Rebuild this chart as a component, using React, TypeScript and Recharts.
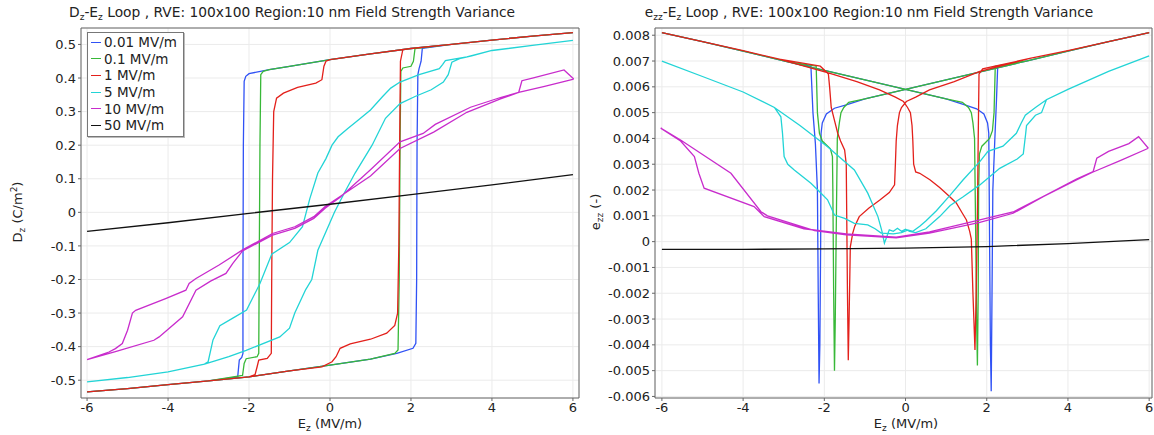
import React from 'react';
import { LineChart, Line, XAxis, YAxis, CartesianGrid, Legend, ReferenceArea } from 'recharts';

const FONT = '"DejaVu Sans", Verdana, sans-serif';

const seriesNames = ['0.01 MV/m', '0.1 MV/m', '1 MV/m', '5 MV/m', '10 MV/m', '50 MV/m'];
const seriesColors = ['#3052f5', '#38b838', '#e3201b', '#22d4d6', '#c82ccc', '#111111'];

const eTicks = [-6, -4, -2, 0, 2, 4, 6];
const dTicks = [-0.5, -0.4, -0.3, -0.2, -0.1, 0, 0.1, 0.2, 0.3, 0.4, 0.5];
const sTicks = [-0.006, -0.005, -0.004, -0.003, -0.002, -0.001, 0, 0.001, 0.002, 0.003, 0.004, 0.005, 0.006, 0.007, 0.008];

// D-E loops: [E (MV/m), D (C/m^2)], down the descending branch then back up
const dBlue: [number, number][] = [
  [6, 0.535], [5, 0.525], [4, 0.513], [3, 0.5], [2, 0.488], [1, 0.472], [0, 0.455], [-1, 0.435], [-1.5, 0.425],
  [-2, 0.413], [-2.08, 0.405], [-2.12, 0.39], [-2.14, 0.2], [-2.15, -0.2], [-2.15, -0.42], [-2.18, -0.432],
  [-2.24, -0.44], [-2.28, -0.49], [-3, -0.502], [-4, -0.513], [-5, -0.525], [-6, -0.535],
  [-5, -0.525], [-4, -0.513], [-3, -0.502], [-2, -0.49], [-1, -0.472], [0, -0.455], [1, -0.437], [1.65, -0.42],
  [2.05, -0.405], [2.12, -0.39], [2.14, -0.2], [2.15, 0.2], [2.17, 0.41], [2.2, 0.428], [2.25, 0.45],
  [2.28, 0.488], [3, 0.5], [4, 0.513], [5, 0.525], [6, 0.535],
];
const dGreen: [number, number][] = [
  [6, 0.535], [5, 0.525], [4, 0.513], [3, 0.5], [2, 0.488], [1, 0.472], [0, 0.455], [-1, 0.435], [-1.5, 0.425],
  [-1.65, 0.42], [-1.71, 0.41], [-1.73, 0.2], [-1.75, -0.2], [-1.76, -0.42], [-1.8, -0.43], [-2.07, -0.436],
  [-2.12, -0.45], [-2.16, -0.486], [-3, -0.502], [-4, -0.513], [-5, -0.525], [-6, -0.535],
  [-5, -0.525], [-4, -0.513], [-3, -0.502], [-2, -0.49], [-1, -0.472], [0, -0.455], [1, -0.437], [1.6, -0.42],
  [1.68, -0.41], [1.71, -0.2], [1.73, 0.2], [1.75, 0.42], [1.8, 0.43], [2.0, 0.435], [2.06, 0.45],
  [2.1, 0.488], [3, 0.5], [4, 0.513], [5, 0.525], [6, 0.535],
];
const dRed: [number, number][] = [
  [6, 0.535], [5, 0.525], [4, 0.513], [3, 0.5], [2, 0.488], [1, 0.472], [0, 0.455], [-0.1, 0.45], [-0.15, 0.435],
  [-0.2, 0.395], [-0.35, 0.385], [-0.8, 0.372], [-1.15, 0.355], [-1.32, 0.34], [-1.39, 0.3], [-1.42, 0.1],
  [-1.44, -0.2], [-1.45, -0.42], [-1.55, -0.435], [-1.76, -0.44], [-1.8, -0.46], [-1.85, -0.483], [-2, -0.49],
  [-3, -0.502], [-4, -0.513], [-5, -0.525], [-6, -0.535],
  [-5, -0.525], [-4, -0.513], [-3, -0.502], [-2, -0.49], [-1, -0.472], [-0.2, -0.46], [0.05, -0.445],
  [0.15, -0.43], [0.25, -0.405], [0.5, -0.392], [1.0, -0.378], [1.4, -0.36], [1.6, -0.337], [1.67, -0.3],
  [1.7, -0.1], [1.72, 0.2], [1.74, 0.45], [1.8, 0.485], [2, 0.488], [3, 0.5], [4, 0.513], [5, 0.525], [6, 0.535],
];
const dCyan: [number, number][] = [
  [6, 0.512], [5, 0.497], [4, 0.482], [3.38, 0.463], [2.85, 0.452], [2.78, 0.44], [2.7, 0.428], [2.2, 0.41],
  [1.73, 0.388], [1.5, 0.37], [1.3, 0.345], [1.0, 0.305], [0.7, 0.275], [0.44, 0.25], [0.2, 0.225], [0.05, 0.2],
  [-0.1, 0.16], [-0.3, 0.117], [-0.5, 0.04], [-0.68, -0.043], [-1.0, -0.09], [-1.44, -0.125], [-1.73, -0.212],
  [-2.06, -0.291], [-2.4, -0.315], [-2.72, -0.338], [-2.89, -0.38], [-3.01, -0.445], [-3.1, -0.452],
  [-4, -0.475], [-5, -0.492], [-6, -0.505],
  [-5, -0.492], [-4, -0.475], [-3.1, -0.452], [-2.5, -0.43], [-2.07, -0.411], [-1.24, -0.371], [-1.0, -0.345],
  [-0.87, -0.3], [-0.6, -0.23], [-0.45, -0.2], [-0.3, -0.113], [0.11, 0.0], [0.35, 0.057], [0.62, 0.117],
  [1.04, 0.2], [1.37, 0.28], [1.73, 0.324], [2.1, 0.345], [2.5, 0.365], [2.8, 0.388], [2.92, 0.41],
  [3.01, 0.447], [3.2, 0.458], [3.5, 0.466], [4, 0.482], [5, 0.497], [6, 0.512],
];
const dMagenta: [number, number][] = [
  [6.02, 0.397], [5.3, 0.375], [4.66, 0.357], [4.21, 0.338], [3.38, 0.298], [2.56, 0.239], [1.73, 0.19],
  [1.0, 0.108], [0.25, 0.047], [-0.12, 0.017], [-0.4, -0.013], [-0.87, -0.043], [-1.42, -0.063], [-2.16, -0.112],
  [-2.74, -0.157], [-3.31, -0.197], [-3.48, -0.212], [-3.56, -0.232], [-4.06, -0.257], [-4.8, -0.292],
  [-4.88, -0.3], [-5.0, -0.351], [-5.13, -0.391], [-5.3, -0.406], [-5.46, -0.416], [-6, -0.439],
  [-5.3, -0.415], [-4.35, -0.381], [-4.22, -0.371], [-3.64, -0.311], [-3.31, -0.232], [-2.95, -0.205],
  [-2.57, -0.182], [-2.4, -0.152], [-2.16, -0.115], [-1.42, -0.068], [-0.87, -0.048], [-0.4, -0.018],
  [-0.12, 0.012], [0.25, 0.045], [1.0, 0.127], [1.73, 0.21], [2.3, 0.235], [2.6, 0.262], [3.47, 0.313],
  [4.21, 0.342], [4.66, 0.357], [4.74, 0.392], [5.0, 0.4], [5.78, 0.424], [6.02, 0.397],
];
const dBlack: [number, number][] = [
  [-6, -0.057], [-4, -0.031], [-2, -0.003], [0, 0.024], [2, 0.053], [4, 0.082], [6, 0.112],
];

// e_zz-E loops: [E (MV/m), strain (-)]
const sBlue: [number, number][] = [
  [6, 0.0081], [5, 0.00775], [4, 0.00738], [3, 0.00701], [2, 0.00664], [1, 0.00627], [0, 0.0059], [-1, 0.00553],
  [-1.46, 0.0053], [-1.75, 0.00517], [-1.95, 0.00495], [-2.05, 0.0046], [-2.08, 0.0042], [-2.09, 0.0],
  [-2.11, -0.004], [-2.13, -0.0055], [-2.15, -0.002], [-2.17, 0.002], [-2.22, 0.0038], [-2.28, 0.005],
  [-2.33, 0.0068], [-3, 0.00701], [-4, 0.00738], [-5, 0.00775], [-6, 0.0081],
  [-5, 0.00775], [-4, 0.00738], [-3, 0.00701], [-2, 0.00664], [-1, 0.00627], [0, 0.0059], [1, 0.00553],
  [1.46, 0.0053], [1.75, 0.00515], [1.93, 0.00495], [2.02, 0.0046], [2.05, 0.0042], [2.07, 0.0], [2.09, -0.004],
  [2.11, -0.0058], [2.13, -0.002], [2.15, 0.002], [2.2, 0.004], [2.24, 0.0055], [2.27, 0.0068], [3, 0.00701],
  [4, 0.00738], [5, 0.00775], [6, 0.0081],
];
const sGreen: [number, number][] = [
  [6, 0.0081], [5, 0.00775], [4, 0.00738], [3, 0.00701], [2, 0.00664], [1, 0.00627], [0, 0.0059], [-1, 0.00553],
  [-1.4, 0.0054], [-1.52, 0.0052], [-1.59, 0.005], [-1.63, 0.0046], [-1.68, 0.004], [-1.71, 0.0], [-1.73, -0.003],
  [-1.75, -0.005], [-1.77, -0.002], [-1.79, 0.002], [-1.8, 0.0033], [-1.85, 0.0036], [-2.05, 0.0039],
  [-2.12, 0.0042], [-2.17, 0.005], [-2.2, 0.0068], [-3, 0.00701], [-4, 0.00738], [-5, 0.00775], [-6, 0.0081],
  [-5, 0.00775], [-4, 0.00738], [-3, 0.00701], [-2, 0.00664], [-1, 0.00627], [0, 0.0059], [1, 0.00553],
  [1.4, 0.0054], [1.55, 0.0052], [1.62, 0.005], [1.66, 0.0046], [1.7, 0.004], [1.73, 0.0], [1.75, -0.003],
  [1.77, -0.0048], [1.79, -0.002], [1.8, 0.002], [1.82, 0.0034], [1.88, 0.0037], [2.07, 0.004], [2.14, 0.0043],
  [2.18, 0.005], [2.21, 0.0068], [3, 0.00701], [4, 0.00738], [5, 0.00775], [6, 0.0081],
];
const sRed: [number, number][] = [
  [6, 0.0081], [5, 0.00775], [4, 0.0074], [3.06, 0.0071], [1.83, 0.0066], [1.2, 0.0062], [0.59, 0.00588],
  [0.25, 0.0056], [0.02, 0.00543], [-0.1, 0.0052], [-0.15, 0.005], [-0.2, 0.0045], [-0.23, 0.0039],
  [-0.25, 0.003], [-0.27, 0.0022], [-0.4, 0.0019], [-0.64, 0.0016], [-0.9, 0.0013], [-1.14, 0.00097],
  [-1.25, 0.0006], [-1.3, 0.00033], [-1.36, -0.0002], [-1.39, -0.003], [-1.41, -0.0046], [-1.43, -0.002],
  [-1.46, 0.003], [-1.5, 0.00355], [-1.6, 0.0039], [-1.67, 0.0042], [-1.75, 0.0047], [-1.83, 0.0052],
  [-1.87, 0.006], [-1.9, 0.0065], [-2.1, 0.0068], [-3.11, 0.00707], [-4, 0.0074], [-5, 0.00775], [-6, 0.0081],
  [-5, 0.00775], [-4, 0.0074], [-3.11, 0.00707], [-1.88, 0.00653], [-1.2, 0.0062], [-0.64, 0.00588],
  [-0.25, 0.0056], [-0.05, 0.00543], [0.05, 0.0052], [0.12, 0.005], [0.16, 0.0045], [0.18, 0.0039],
  [0.2, 0.003], [0.25, 0.0027], [0.35, 0.00265], [0.6, 0.0024], [0.84, 0.0021], [1.05, 0.0018], [1.25, 0.0015],
  [1.4, 0.0011], [1.5, 0.00084], [1.58, 0.0004], [1.62, 0.0001], [1.66, -0.002], [1.71, -0.0042], [1.74, -0.002],
  [1.77, 0.001], [1.79, 0.004], [1.81, 0.0065], [1.9, 0.0067], [2.2, 0.0068], [3.06, 0.0071], [4, 0.0074],
  [5, 0.00775], [6, 0.0081],
];
const sCyan: [number, number][] = [
  [6, 0.0072], [5, 0.0066], [4, 0.0059], [3.47, 0.0055], [3.2, 0.0052], [2.95, 0.0049], [2.85, 0.0046],
  [2.73, 0.0042], [2.4, 0.0037], [2.03, 0.0035], [1.83, 0.0031], [1.42, 0.0024], [1.1, 0.0018], [0.76, 0.0012],
  [0.5, 0.0008], [0.35, 0.0006], [0.18, 0.0004], [0.05, 0.00045], [-0.1, 0.00035], [-0.3, 0.0003],
  [-0.6, 0.00033], [-0.75, 0.0005], [-0.93, 0.00065], [-1.26, 0.00071], [-1.5, 0.0009], [-1.75, 0.00103],
  [-1.92, 0.00162], [-2.16, 0.002], [-2.33, 0.00226], [-2.74, 0.00278], [-2.9, 0.003], [-2.99, 0.0033],
  [-3.03, 0.0042], [-3.07, 0.00484], [-3.23, 0.0052], [-4, 0.0058], [-5, 0.0064], [-6, 0.007],
  [-5, 0.0064], [-4, 0.0058], [-3.23, 0.0052], [-2.6, 0.0045], [-1.92, 0.00368], [-1.26, 0.00278],
  [-0.93, 0.00188], [-0.68, 0.00097], [-0.58, 0.0004], [-0.52, -0.00006], [-0.46, 0.0002], [-0.4, 0.00046],
  [-0.3, 0.0004], [-0.2, 0.00052], [-0.1, 0.0004], [0.0, 0.00048], [0.1, 0.0004], [0.25, 0.00035],
  [0.5, 0.0005], [0.84, 0.00097], [1.1, 0.0014], [1.42, 0.00174], [1.83, 0.0022], [2.32, 0.00284],
  [2.75, 0.0032], [2.9, 0.0034], [2.96, 0.0042], [2.98, 0.0045], [3.2, 0.0049], [3.35, 0.005], [3.47, 0.0055],
  [4, 0.0059], [5, 0.0066], [6, 0.0072],
];
const sMagenta: [number, number][] = [
  [5.98, 0.00362], [5.3, 0.00315], [4.62, 0.0027], [4.21, 0.00239], [3.39, 0.00174], [2.65, 0.0011],
  [1.83, 0.00075], [0.59, 0.00033], [-0.23, 0.00015], [-1.46, 0.00026], [-2.24, 0.00043], [-3.4, 0.001],
  [-3.56, 0.00116], [-4.3, 0.00265], [-5.54, 0.00394], [-6.03, 0.0044],
  [-5.54, 0.0039], [-5.2, 0.0033], [-5.09, 0.00265], [-4.96, 0.00207], [-3.73, 0.00136], [-3.48, 0.00097],
  [-2.5, 0.0005], [-1.46, 0.0003], [-0.23, 0.00017], [0.59, 0.00038], [1.83, 0.00084], [2.65, 0.00115],
  [3.47, 0.00181], [4.21, 0.00242], [4.62, 0.00271], [4.71, 0.00323], [5.0, 0.0035], [5.5, 0.0038],
  [5.74, 0.00407], [5.98, 0.00362],
];
const sBlack: [number, number][] = [
  [-6, -0.0003], [-4, -0.0003], [-2, -0.00028], [0, -0.00025], [2, -0.00019], [4, -0.00008], [6, 0.00008],
];

const dLoops = [dBlue, dGreen, dRed, dCyan, dMagenta, dBlack];
const sLoops = [sBlue, sGreen, sRed, sCyan, sMagenta, sBlack];

const tickStyle = { fill: '#222', fontSize: 13, fontFamily: FONT };

function fmt(v: number, digits: number) {
  return v === 0 ? '0' : v.toFixed(digits);
}

function LegendBox() {
  return (
    <div
      style={{
        border: '1px solid #777',
        background: '#fff',
        boxShadow: '1px 1px 0 #bbb',
        padding: '1px 6px 2px 3px',
        fontFamily: FONT,
        fontSize: 13.5,
        color: '#222',
      }}
    >
      {seriesNames.map((name, i) => (
        <div key={name} style={{ display: 'flex', alignItems: 'center', height: 16.6 }}>
          <span style={{ width: 10, height: 0, borderTop: `1.5px solid ${seriesColors[i]}`, marginRight: 3 }} />
          <span>{name}</span>
        </div>
      ))}
    </div>
  );
}

type LoopChartProps = {
  width: number;
  loops: [number, number][][];
  xDomain: [number, number];
  yDomain: [number, number];
  yTicks: number[];
  digits: number;
  yAxisWidth: number;
  rightMargin: number;
  showLegend?: boolean;
};

function LoopChart({ width, loops, xDomain, yDomain, yTicks, digits, yAxisWidth, rightMargin, showLegend }: LoopChartProps) {
  return (
    <LineChart width={width} height={435} margin={{ top: 28, right: rightMargin, left: 0, bottom: 0 }}>
      <CartesianGrid stroke="#ebebeb" strokeWidth={1} />
      <XAxis
        type="number"
        dataKey="x"
        domain={xDomain}
        ticks={eTicks}
        allowDataOverflow
        height={37}
        tick={tickStyle}
        tickSize={3}
        tickLine={{ stroke: '#666' }}
        axisLine={false}
      />
      <YAxis
        type="number"
        dataKey="y"
        domain={yDomain}
        ticks={yTicks}
        allowDataOverflow
        width={yAxisWidth}
        tick={tickStyle}
        tickSize={3}
        tickLine={{ stroke: '#666' }}
        axisLine={false}
        tickFormatter={(v: number) => fmt(v, digits)}
      />
      <ReferenceArea
        x1={xDomain[0]}
        x2={xDomain[1]}
        y1={yDomain[0]}
        y2={yDomain[1]}
        fill="none"
        stroke="#666"
        strokeWidth={1}
        fillOpacity={0}
      />
      {loops.map((loop, i) => (
        <Line
          key={seriesNames[i]}
          name={seriesNames[i]}
          data={loop.map(([x, y]) => ({ x, y }))}
          dataKey="y"
          type="linear"
          stroke={seriesColors[i]}
          strokeWidth={1.3}
          dot={false}
          activeDot={false}
          isAnimationActive={false}
        />
      ))}
      {showLegend && (
        <Legend
          layout="vertical"
          align="center"
          verticalAlign="middle"
          wrapperStyle={{ left: 87, top: 32, width: 'auto' }}
          content={() => <LegendBox />}
        />
      )}
    </LineChart>
  );
}

const textStyle: React.CSSProperties = { position: 'absolute', fontFamily: FONT, fontSize: 13, color: '#222', whiteSpace: 'nowrap' };
const subStyle: React.CSSProperties = { fontSize: 9, verticalAlign: -3 };

export default function App() {
  return (
    <div style={{ position: 'absolute', left: 0, top: 0, width: 1154, height: 435, background: '#fff', overflow: 'hidden' }}>
      <div style={{ position: 'absolute', left: 0, top: 0 }}>
        <LoopChart
          width={590}
          loops={dLoops}
          xDomain={[-6.15, 6.15]}
          yDomain={[-0.553, 0.549]}
          yTicks={dTicks}
          digits={1}
          yAxisWidth={81}
          rightMargin={11}
          showLegend
        />
      </div>
      <div style={{ position: 'absolute', left: 575, top: 0 }}>
        <LoopChart
          width={579}
          loops={sLoops}
          xDomain={[-6.17, 6.07]}
          yDomain={[-0.00606, 0.00828]}
          yTicks={sTicks}
          digits={3}
          yAxisWidth={80}
          rightMargin={2}
        />
      </div>

      <div style={{ ...textStyle, fontSize: 13.8, left: 0, width: 584, top: 4, textAlign: 'center' }}>
        D<span style={subStyle}>z</span>-E<span style={subStyle}>z</span> Loop , RVE: 100x100 Region:10 nm Field Strength Variance
      </div>
      <div style={{ ...textStyle, fontSize: 13.8, left: 584, width: 570, top: 4, textAlign: 'center' }}>
        e<span style={subStyle}>zz</span>-E<span style={subStyle}>z</span> Loop , RVE: 100x100 Region:10 nm Field Strength Variance
      </div>

      <div style={{ ...textStyle, left: 280, width: 100, top: 416, textAlign: 'center' }}>
        E<span style={subStyle}>z</span> (MV/m)
      </div>
      <div style={{ ...textStyle, left: 856, width: 100, top: 416, textAlign: 'center' }}>
        E<span style={subStyle}>z</span> (MV/m)
      </div>

      <div style={{ ...textStyle, left: 18, top: 212, transform: 'translate(-50%, -50%) rotate(-90deg)' }}>
        D<span style={subStyle}>z</span> (C/m<sup style={{ fontSize: 9, verticalAlign: 5 }}>2</sup>)
      </div>
      <div style={{ ...textStyle, left: 596, top: 212, transform: 'translate(-50%, -50%) rotate(-90deg)' }}>
        e<span style={subStyle}>zz</span> (-)
      </div>
    </div>
  );
}
